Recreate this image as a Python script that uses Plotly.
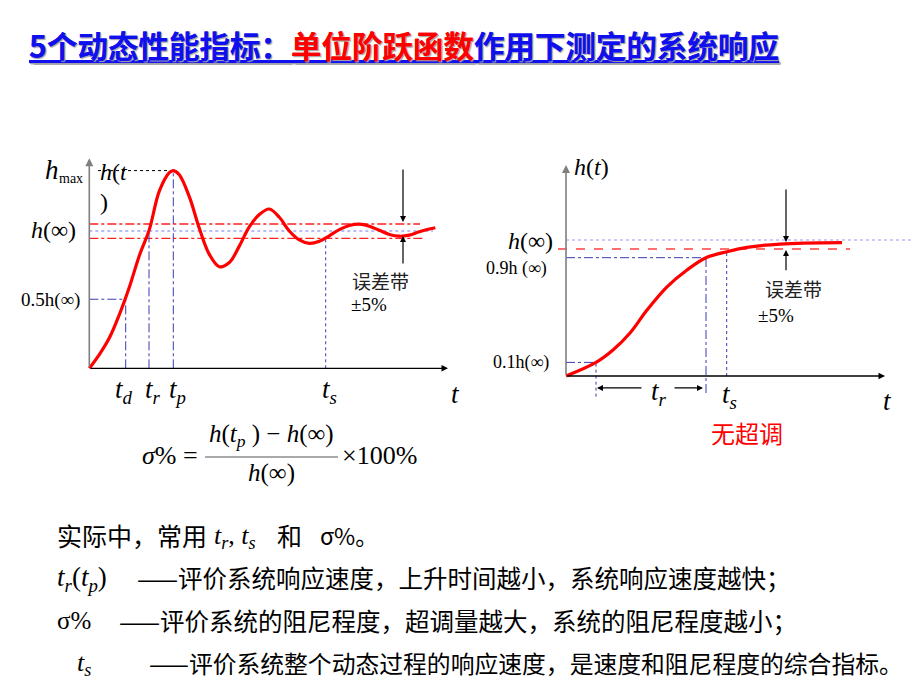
import plotly.graph_objects as go

W, H = 920, 690
SERIF = "Liberation Serif"
CJK = "Noto Sans CJK SC"

# ---------------- data ----------------
# left: under-damped step response, h(inf) = 1
t_under = [0, 1, 2, 3, 4, 5, 6, 7, 8, 8.4, 9, 10, 11, 12, 13, 14, 15, 16, 17, 18, 19, 20,
           21, 22, 23, 24, 25, 26, 27, 28, 29, 30, 31, 32, 33, 34, 34.6]
h_under = [0, 0.10, 0.22, 0.39, 0.59, 0.82, 1.01, 1.29, 1.425, 1.44, 1.41, 1.25, 1.02, 0.83,
           0.74, 0.77, 0.89, 1.03, 1.12, 1.16, 1.10, 1.00, 0.935, 0.91, 0.925, 0.965, 1.01,
           1.04, 1.05, 1.035, 1.005, 0.975, 0.962, 0.97, 0.995, 1.015, 1.024]
L_td, L_tr, L_tp, L_ts = 3.64, 5.97, 8.4, 23.64
L_half, L_hmax, L_hinf = 0.503, 1.44, 1.0
L_band = [1.051, 0.947]
L_hts = 0.96

# right: over-damped step response
t_over = [0, 3.0, 4.7, 6.4, 8.1, 10.1, 12.1, 14.0, 16.1, 18.1, 21.4, 27.6]
h_over = [0, 0.10, 0.191, 0.316, 0.485, 0.656, 0.78, 0.87, 0.914, 0.946, 0.97, 0.98]
R_t10, R_t90, R_ts = 3.0, 14.0, 16.07
R_h10, R_h90, R_hinf, R_band = 0.10, 0.87, 1.0, 0.934
R_hts = 0.92

# ---------------- axes geometry ----------------
def xdom(px0, s, lo, hi):
    return [(px0 + lo * s) / W, (px0 + hi * s) / W]

def ydom(py0, s, lo, hi):
    return [1 - (py0 - lo * s) / H, 1 - (py0 - hi * s) / H]

LX = dict(px0=89.3, s=10.0, lo=-1.0, hi=36.0)
LY = dict(py0=368.3, s=137.3, lo=-0.1, hi=1.6)
RX = dict(px0=566.0, s=10.0, lo=-1.2, hi=35.2)
RY = dict(py0=376.0, s=136.0, lo=-0.3, hi=1.6)

fig = go.Figure()
fig.add_trace(go.Scatter(x=t_under, y=h_under, mode="lines", xaxis="x", yaxis="y",
                         line=dict(color="#ff0000", width=3.2, shape="spline", smoothing=1.0),
                         hoverinfo="skip"))
fig.add_trace(go.Scatter(x=t_over, y=h_over, mode="lines", xaxis="x2", yaxis="y2",
                         line=dict(color="#ff0000", width=3.2, shape="spline", smoothing=1.0),
                         hoverinfo="skip"))

ax_common = dict(showgrid=False, zeroline=False, showline=False, showticklabels=False, ticks="")
fig.update_layout(
    width=W, height=H, margin=dict(l=0, r=0, t=0, b=0),
    paper_bgcolor="white", plot_bgcolor="rgba(0,0,0,0)", showlegend=False,
    xaxis=dict(domain=xdom(LX["px0"], LX["s"], LX["lo"], LX["hi"]), range=[LX["lo"], LX["hi"]], **ax_common),
    yaxis=dict(domain=ydom(LY["py0"], LY["s"], LY["lo"], LY["hi"]), range=[LY["lo"], LY["hi"]], **ax_common),
    xaxis2=dict(domain=xdom(RX["px0"], RX["s"], RX["lo"], RX["hi"]), range=[RX["lo"], RX["hi"]], anchor="y2", **ax_common),
    yaxis2=dict(domain=ydom(RY["py0"], RY["s"], RY["lo"], RY["hi"]), range=[RY["lo"], RY["hi"]], anchor="x2", **ax_common),
)

def line(xr, yr, x0, y0, x1, y1, color, dash, width=1.0):
    fig.add_shape(type="line", xref=xr, yref=yr, x0=x0, y0=y0, x1=x1, y1=y1,
                  line=dict(color=color, dash=dash, width=width), layer="below")

BLUE = "#3a3ab0"
LBLUE = "#7777ee"
# ---- left guide lines
line("x", "y", 0, L_band[0], 33.07, L_band[0], "#ff2020", "dashdot", 1.3)
line("x", "y", 0, L_band[1], 33.57, L_band[1], "#ff2020", "dashdot", 1.3)
line("x", "y", 0, L_hinf, 34.37, L_hinf, LBLUE, "dot", 1)
line("x", "y", 0.87, L_hmax, L_tp, L_hmax, "#000000", "dot", 1)
line("x", "y", 0, L_half, L_td, L_half, BLUE, "dashdot", 1)
line("x", "y", L_td, 0, L_td, L_half, BLUE, "dashdot", 1)
line("x", "y", L_tr, 0, L_tr, L_hinf, BLUE, "dashdot", 1)
line("x", "y", L_tp, 0, L_tp, L_hmax, BLUE, "dashdot", 1)
line("x", "y", L_ts, 0, L_ts, L_hts, BLUE, "dot", 1)
# ---- right guide lines
line("x2", "y2", 0, R_hinf, 34.57, R_hinf, "#9999ff", "dot", 1)
line("x2", "y2", -0.8, R_band, 28.4, R_band, "#ff4040", "dash", 1.3)
line("x2", "y2", 0, R_h90, R_t90, R_h90, BLUE, "dashdot", 1)
line("x2", "y2", 0, R_h10, R_t10, R_h10, BLUE, "dashdot", 1)
line("x2", "y2", R_t10, -0.152, R_t10, R_h10, BLUE, "dot", 1)
line("x2", "y2", R_t90, -0.125, R_t90, R_h90, BLUE, "dashdot", 1)
line("x2", "y2", R_ts, 0, R_ts, R_hts, BLUE, "dot", 1)

def arrow(xr, yr, x, y, ax, ay, color="#000000", width=1.2, head=2, size=1.0):
    fig.add_annotation(xref=xr, yref=yr, axref=xr, ayref=yr, x=x, y=y, ax=ax, ay=ay,
                       text="", showarrow=True, arrowhead=head, arrowsize=size,
                       arrowwidth=width, arrowcolor=color)

# axes with arrowheads
arrow("x", "y", 0, 1.53, 0, 0, "#7f7f7f", 1.6)
arrow("x", "y", 35.87, 0, 0, 0, "#000000", 1.3)
arrow("x2", "y2", 0, 1.551, 0, 0, "#7f7f7f", 1.6)
arrow("x2", "y2", 31.9, 0, 0, 0, "#000000", 1.3)
# error band arrows
arrow("x", "y", 31.37, 1.066, 31.37, 1.459)
arrow("x", "y", 31.37, 0.963, 31.37, 0.752)
arrow("x2", "y2", 22.0, 0.985, 22.0, 1.382)
arrow("x2", "y2", 22.0, 0.926, 22.0, 0.767)
# tr arrows (right)
arrow("x2", "y2", 3.1, -0.088, 7.7, -0.088)
arrow("x2", "y2", 13.7, -0.088, 10.7, -0.088)

def txt(x, y, s, size, color="#000000", family=SERIF, xanchor="center", yanchor="middle", **kw):
    fig.add_annotation(xref="paper", yref="paper", x=x / W, y=1 - y / H, text=s, showarrow=False,
                       xanchor=xanchor, yanchor=yanchor,
                       font=dict(size=size, color=color, family=family, **kw))

def it(s):
    return "<i>" + s + "</i>"

# ---- left labels
txt(52, 170, it("h"), 27)
txt(71, 178, "max", 14)
txt(114, 172, it("h") + "(" + it("t"), 24)
txt(104, 202, ")", 24)
txt(53, 230, it("h") + "(∞)", 24)
txt(50, 300, "0.5h(∞)", 19)
txt(124, 391, it("t") + "<sub>" + it("d") + "</sub>", 27)
txt(153, 391, it("t") + "<sub>" + it("r") + "</sub>", 27)
txt(177, 391, it("t") + "<sub>" + it("p") + "</sub>", 27)
txt(329, 391, it("t") + "<sub>" + it("s") + "</sub>", 27)
txt(455, 394, it("t"), 27)
txt(380, 280, "误差带", 19, "#222222", CJK)
txt(369, 304, "±5%", 19)

# ---- right labels
txt(591, 167, it("h") + "(" + it("t") + ")", 24)
txt(530, 241, it("h") + "(∞)", 24)
txt(516, 268, "0.9h (∞)", 18)
txt(521, 362, "0.1h(∞)", 18)
txt(659, 393, it("t") + "<sub>" + it("r") + "</sub>", 27)
txt(729, 396, it("t") + "<sub>" + it("s") + "</sub>", 27)
txt(887, 401, it("t"), 27)
txt(747, 432, "无超调", 24, "#ff0000", CJK)
txt(793, 289, "误差带", 19, "#222222", CJK)
txt(776, 315, "±5%", 19)

# ---- formula
txt(170, 455, it("σ") + "% =", 26)
txt(271, 435, it("h") + "(" + it("t") + "<sub>" + it("p") + "</sub> ) − " + it("h") + "(∞)", 25)
fig.add_shape(type="line", xref="paper", yref="paper", x0=205 / W, x1=338 / W,
              y0=1 - 457 / H, y1=1 - 457 / H, line=dict(color="#555555", width=1))
txt(271, 473, it("h") + "(∞)", 25)
txt(379, 455, "×100%", 26)

# ---- title
B = "#1010ee"
R = "#ff0000"
title = ("<span style='color:%s'>5个动态性能指标：</span><span style='color:%s'>单位阶跃函数</span>"
         "<span style='color:%s'>作用下测定的系统响应</span>" % (B, R, B))
fig.add_annotation(xref="paper", yref="paper", x=27 / W, y=1 - 45 / H, text="<b>" + title + "</b>",
                   showarrow=False, xanchor="left", yanchor="middle",
                   font=dict(size=30.5, family=CJK, color=B, lineposition="under",
                             shadow="1px 1px 1px #aaaaaa"))

# ---- bottom explanation lines
FS = 24.5

txt(55, 535, "实际中，常用", 25, family=CJK, xanchor="left")
txt(212, 537, it("t") + "<sub>" + it("r") + "</sub>, " + it("t") + "<sub>" + it("s") + "</sub>", 26, xanchor="left")
txt(275, 535, "和", 25, family=CJK, xanchor="left")
txt(318, 535, "σ%。", 23, family=CJK, xanchor="left")

txt(55, 579, it("t") + "<sub>" + it("r") + "</sub>(" + it("t") + "<sub>" + it("p") + "</sub>)", 27, xanchor="left")
txt(135, 577, "——评价系统响应速度，上升时间越小，系统响应速度越快；", FS, family=CJK, xanchor="left")

txt(55, 620, "σ%", 25, xanchor="left")
txt(117, 620, "——评价系统的阻尼程度，超调量越大，系统的阻尼程度越小；", FS, family=CJK, xanchor="left")

txt(75, 664, it("t") + "<sub>" + it("s") + "</sub>", 26, xanchor="left")
txt(147, 662, "——评价系统整个动态过程的响应速度，是速度和阻尼程度的综合指标。", 23.8, family=CJK, xanchor="left")

fig.write_html("out.html", config={"displayModeBar": False},
               post_script="document.body.style.margin='0px';document.body.style.overflow='hidden';")
